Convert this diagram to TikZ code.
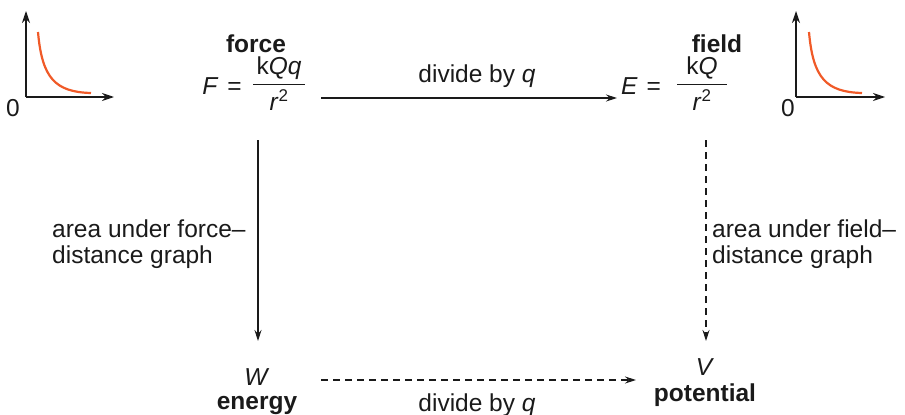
\documentclass[tikz,border=0pt]{standalone}
\usepackage{fontspec}
\setmainfont{Liberation Sans}
\usetikzlibrary{arrows.meta}
\definecolor{ink}{HTML}{1A1A1A}
\definecolor{curve}{HTML}{F05A28}
\tikzset{
  txt/.style={inner sep=0pt, font=\fontsize{24.5}{25.5}\selectfont, text=ink},
  bold/.style={txt, font=\fontsize{24.5}{25.5}\selectfont\bfseries},
  conn/.style={draw=ink, line width=1.1pt, -{Stealth[length=11pt,width=7pt]}},
  axis/.style={draw=ink, line width=1.1pt, -{Stealth[length=12pt,width=8pt]}},
  dcurve/.style={draw=curve, line width=2.2pt},
  dsh/.style={dash pattern=on 7pt off 5pt}
}
\begin{document}
\begin{tikzpicture}[x=1pt,y=-1pt]
\useasboundingbox (0,0) rectangle (905,415);
% left graph
\coordinate (lo) at (26,97);
\coordinate (ly) at (26,11);
\coordinate (lx) at (114,97);
\draw[axis] (lo) -- (ly);
\draw[axis] (lo) -- (lx);
\draw[dcurve] (38,32) .. controls (42,78) and (55,92) .. (91,93);
\node[txt] (lzero) at (13,108) {0};
% right graph
\coordinate (ro) at (796,97);
\coordinate (ry) at (796,11);
\coordinate (rx) at (885,97);
\draw[axis] (ro) -- (ry);
\draw[axis] (ro) -- (rx);
\draw[dcurve] (809,32) .. controls (813,78) and (826,92) .. (862,93);
\node[txt] (rzero) at (788,108) {0};
% force
\node[bold] (forcel) at (256,44) {force};
\node[txt] (Flhs) at (222,86) {\textit{F}\hspace{9pt}=};
\node[txt] (Fnum) at (279,68) {k\textit{Qq}};
\node[txt] (Fden) at (279,100) {\textit{r}\textsuperscript{\fontsize{17}{17}\selectfont 2}};
\draw[ink, line width=1pt] (253,84) -- (305,84);
% field
\node[bold] (fieldl) at (717,44) {field};
\node[txt] (Elhs) at (641,86) {\textit{E}\hspace{9pt}=};
\node[txt] (Enum) at (702,68) {k\textit{Q}};
\node[txt] (Eden) at (702,100) {\textit{r}\textsuperscript{\fontsize{17}{17}\selectfont 2}};
\draw[ink, line width=1pt] (677,84) -- (727,84);
% top arrow
\coordinate (ta) at (321,98);
\coordinate (tb) at (617,98);
\draw[conn] (ta) -- (tb);
\node[txt] (tl) at (477,76) {divide by \textit{q}};
% bottom
\node[txt] (W) at (257,377) {\textit{W}};
\node[bold] (energy) at (257,405) {energy};
\node[txt] (V) at (705,367) {\textit{V}};
\node[bold] (potential) at (705,395) {potential};
\coordinate (la) at (258,140);
\coordinate (lb) at (258,341);
\draw[conn] (la) -- (lb);
\coordinate (ra) at (706,140);
\coordinate (rb) at (706,341);
\draw[conn, dsh] (ra) -- (rb);
\coordinate (ba) at (321,380);
\coordinate (bb) at (636,380);
\draw[conn, dsh] (ba) -- (bb);
\node[txt] (bl) at (477,405) {divide by \textit{q}};
% side labels
\node[txt, anchor=west, align=left] (ll) at (52,244) {area under force–\\distance graph};
\node[txt, anchor=west, align=left] (rl) at (712,244) {area under field–\\distance graph};
\end{tikzpicture}
\end{document}
